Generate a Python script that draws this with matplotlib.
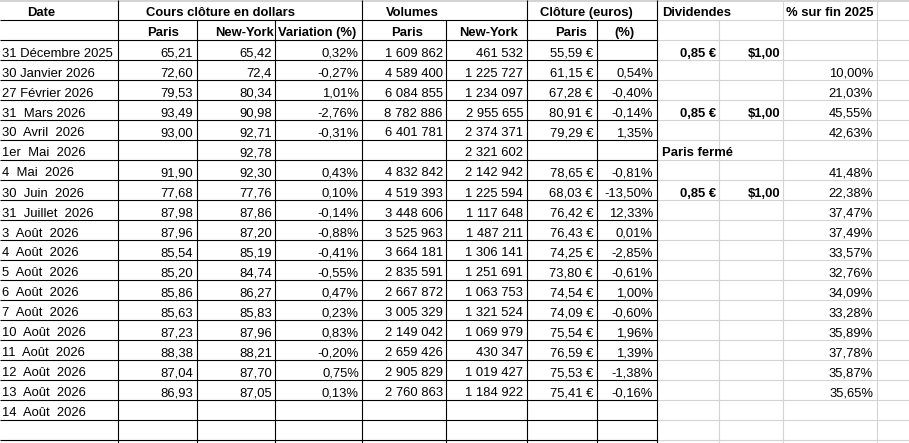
import matplotlib
matplotlib.use("Agg")
import matplotlib.pyplot as plt

# ── Data ──────────────────────────────────────────────────────────────────────
dates = [
    "31 Décembre 2025", "30 Janvier 2026", "27 Février 2026", "31  Mars 2026",
    "30  Avril  2026", "1er  Mai  2026", "4  Mai  2026", "30  Juin  2026",
    "31  Juillet  2026", "3  Août  2026", "4  Août  2026", "5  Août  2026",
    "6  Août  2026", "7  Août  2026", "10  Août  2026", "11  Août  2026",
    "12  Août  2026", "13  Août  2026", "14  Août  2026",
]
close_paris_usd = [65.21, 72.60, 79.53, 93.49, 93.00, None, 91.90, 77.68, 87.98,
                   87.96, 85.54, 85.20, 85.86, 85.63, 87.23, 88.38, 87.04, 86.93, None]
close_ny_usd = ["65,42", "72,4", "80,34", "90,98", "92,71", "92,78", "92,30", "77,76",
                "87,86", "87,20", "85,19", "84,74", "86,27", "85,83", "87,96", "88,21",
                "87,70", "87,05", None]
variation_pct = [0.32, -0.27, 1.01, -2.76, -0.31, None, 0.43, 0.10, -0.14, -0.88,
                 -0.41, -0.55, 0.47, 0.23, 0.83, -0.20, 0.75, 0.13, None]
volume_paris = [1609862, 4589400, 6084855, 8782886, 6401781, None, 4832842, 4519393,
                3448606, 3525963, 3664181, 2835591, 2667872, 3005329, 2149042,
                2659426, 2905829, 2760863, None]
volume_ny = [461532, 1225727, 1234097, 2955655, 2374371, 2321602, 2142942, 1225594,
             1117648, 1487211, 1306141, 1251691, 1063753, 1321524, 1069979, 430347,
             1019427, 1184922, None]
close_paris_eur = [55.59, 61.15, 67.28, 80.91, 79.29, None, 78.65, 68.03, 76.42, 76.43,
                   74.25, 73.80, 74.54, 74.09, 75.54, 76.59, 75.53, 75.41, None]
eur_pct = [None, 0.54, -0.40, -0.14, 1.35, None, -0.81, -13.50, 12.33, 0.01, -2.85,
           -0.61, 1.00, -0.60, 1.96, 1.39, -1.38, -0.16, None]
dividend_rows = [0, 3, 7]
dividend_eur = 0.85
dividend_usd = 1.00
closed_row = 5
closed_label = "Paris fermé"
pct_since_2025 = [None, 10.00, 21.03, 45.55, 42.63, None, 41.48, 22.38, 37.47, 37.49,
                  33.57, 32.76, 34.09, 33.28, 35.89, 37.78, 35.87, 35.65, None]

# ── Layout (pixels) ───────────────────────────────────────────────────────────
W, H = 909, 443
ROW_H = 20
DATA_TOP = 40
n_rows = 21
black_cols = [118, 197, 275, 362, 446, 527, 597, 657]
group_cols = [118, 362, 527, 657]
GREY = "#d4d4d4"
FONT = "Liberation Sans"
FS = 9.4


def fr(v, dec=2):
    s = f"{v:,.{dec}f}"
    return s.replace(",", " ").replace(".", ",")


def fr_int(v):
    return f"{v:,}".replace(",", " ")


fig = plt.figure(figsize=(W / 100, H / 100), dpi=100)
ax = fig.add_axes([0, 0, 1, 1])
ax.set_xlim(0, W)
ax.set_ylim(H, 0)
ax.axis("off")

# grid
ax.hlines(1, 0, W, color=GREY, lw=1.5)
for i in range(1, n_rows + 2):
    y = i * ROW_H
    ax.hlines(y, 0, 657, color="black", lw=0.8, zorder=3)
    ax.hlines(y, 657, W, color=GREY, lw=0.8, zorder=2)
for x in group_cols:
    ax.vlines(x, 0, ROW_H, color="black", lw=0.8, zorder=3)
for x in black_cols:
    ax.vlines(x, ROW_H, H, color="black", lw=0.8, zorder=3)
ax.vlines(719, ROW_H, H, color=GREY, lw=0.8, zorder=2)
for x in [783, 877]:
    ax.vlines(x, 0, H, color=GREY, lw=0.8, zorder=2)


def txt(x, y, s, ha="right", bold=False):
    ax.text(x, y, s, ha=ha, va="baseline", fontsize=FS, family=FONT,
            fontweight="bold" if bold else "normal", color="black", zorder=4)


# headers
txt(41, 15.5, "Date", ha="center", bold=True)
txt(220, 15.5, "Cours clôture en dollars", ha="center", bold=True)
txt(412, 15.5, "Volumes", ha="center", bold=True)
txt(586, 15.5, "Clôture (euros)", ha="center", bold=True)
txt(662, 15.5, "Dividendes", ha="left", bold=True)
txt(786, 15.5, "% sur fin 2025", ha="left", bold=True)

txt(163, 36, "Paris", ha="center", bold=True)
txt(245, 36, "New-York", ha="center", bold=True)
txt(317, 36, "Variation (%)", ha="center", bold=True)
txt(407, 36, "Paris", ha="center", bold=True)
txt(488, 36, "New-York", ha="center", bold=True)
txt(571, 36, "Paris", ha="center", bold=True)
txt(624, 36, "(%)", ha="center", bold=True)

# body
for i, d in enumerate(dates):
    y = DATA_TOP + i * ROW_H + 16.5
    txt(2, y, d, ha="left")
    if close_paris_usd[i] is not None:
        txt(193, y, fr(close_paris_usd[i]))
    if close_ny_usd[i] is not None:
        txt(272, y, close_ny_usd[i])
    if variation_pct[i] is not None:
        txt(359, y, fr(variation_pct[i]) + "%")
    if volume_paris[i] is not None:
        txt(443, y, fr_int(volume_paris[i]))
    if volume_ny[i] is not None:
        txt(523, y, fr_int(volume_ny[i]))
    if close_paris_eur[i] is not None:
        txt(593, y, fr(close_paris_eur[i]) + " €")
    if eur_pct[i] is not None:
        txt(653, y, fr(eur_pct[i]) + "%")
    if i in dividend_rows:
        txt(716, y, fr(dividend_eur) + " €", bold=True)
        txt(780, y, "$" + fr(dividend_usd), bold=True)
    if i == closed_row:
        txt(662, y, closed_label, ha="left", bold=True)
    if pct_since_2025[i] is not None:
        txt(873, y, fr(pct_since_2025[i]) + "%")

fig.savefig("out.png", dpi=100)
